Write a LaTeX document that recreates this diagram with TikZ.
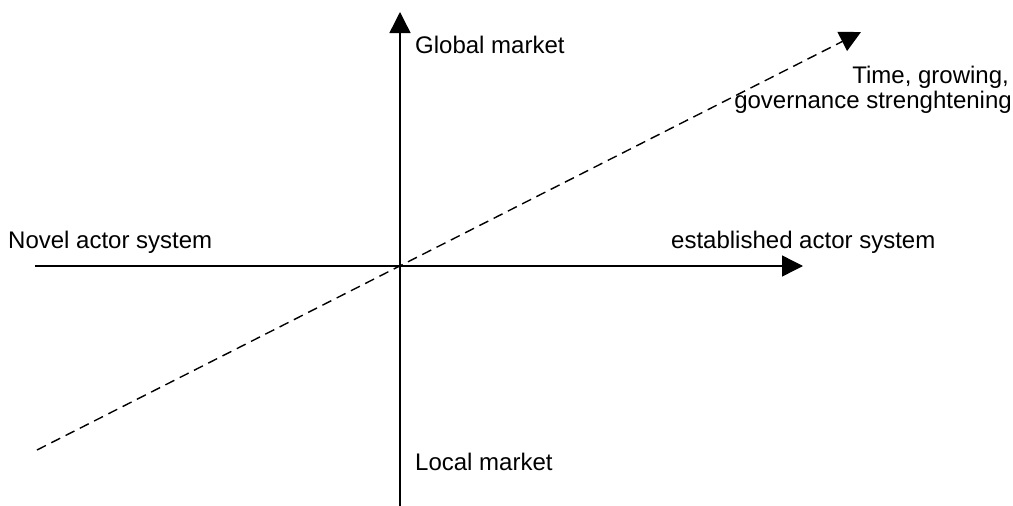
\documentclass[tikz,border=0pt]{standalone}
\usepackage{fontspec}
\setmainfont{Liberation Sans}
\usetikzlibrary{arrows.meta}
\begin{document}
\begin{tikzpicture}[x=1pt,y=-1pt,
  axis/.style={line width=1.4pt,-{Triangle[length=21pt,width=21pt]}},
  dashaxis/.style={line width=1.4pt,dash pattern=on 10pt off 6pt,-{Triangle[length=21pt,width=21pt]}},
  lbl/.style={inner sep=0pt,font=\fontsize{24}{27}\selectfont}]
\useasboundingbox (0,0) rectangle (1013,506);
\coordinate (vb) at (400,506);
\coordinate (vt) at (400,12);
\coordinate (hl) at (35,266);
\coordinate (hr) at (803,266);
\coordinate (ds) at (37,450);
\coordinate (de) at (861,32);
\draw[axis] (vb) -- (vt);
\draw[axis] (hl) -- (hr);
\draw[dashaxis] (ds) -- (de);
\node[lbl,anchor=base west] (gm) at (415,53) {Global market};
\node[lbl,anchor=base west] (lm) at (415,470) {Local market};
\node[lbl,anchor=base west] (na) at (8,248) {Novel actor system};
\node[lbl,anchor=base west] (ea) at (671,248) {established actor system};
\node[lbl,anchor=base east] (t1) at (1009,83) {Time, growing,};
\node[lbl,anchor=base east] (t2) at (1012,108) {governance strenghtening};
\end{tikzpicture}
\end{document}
